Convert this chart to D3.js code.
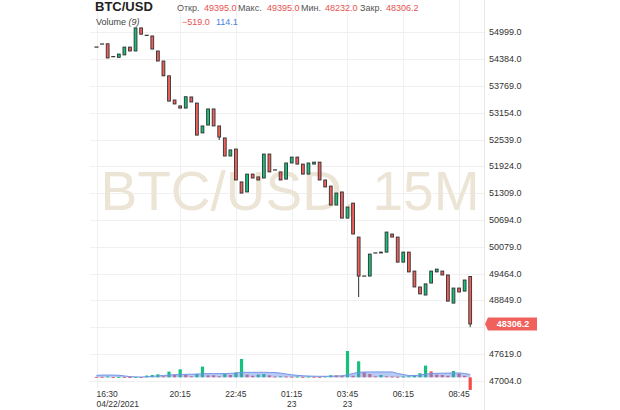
<!DOCTYPE html>
<html><head><meta charset="utf-8">
<script src="https://cdn.jsdelivr.net/npm/d3@7/dist/d3.min.js"></script>
<style>
html,body{margin:0;padding:0;background:#fff;}
svg{display:block;font-family:"Liberation Sans",Arial,sans-serif;}
</style></head>
<body><svg id="c" width="620" height="410"></svg>
<script>
// ---- data ----
const startTime = "2021-04-22T16:30:00";
const opens = [54660,54730,54735,54440,54425,54480,54660,54570,55100,54930,
 54915,54570,54340,54000,53445,53310,53260,53515,53375,52690,
 52870,53240,52850,52575,52160,52320,51565,51335,51745,51680,
 51655,52205,51840,51795,51630,52000,52135,51975,51745,51975,
 52020,51610,51470,51035,51335,50735,51080,50300,49405,49405,
 49935,49935,49955,50370,50300,49725,49955,49520,49155,48970,
 49245,49500,49520,49430,48785,49130,49060,49395];
const closes = [54660,54730,54410,54440,54500,54660,54570,55100,54955,54930,
 54615,54340,54000,53420,53355,53260,53520,53400,52640,52850,
 53240,52850,52595,52160,52300,51610,51310,51745,51655,51610,
 52205,51795,51840,51610,52000,52135,51975,51745,52000,52020,
 51610,51450,51035,51310,50735,50990,50370,49405,49405,49910,
 49935,49955,50415,50300,49725,49955,49500,49155,48995,49225,
 49520,49565,49430,48830,49130,49040,49315,48306.2];
const highs = [54660,54730,54735,54440,54500,54660,54660,55100,55100,54930,
 54915,54570,54340,54000,53445,53310,53520,53515,53375,52850,
 53240,53240,52850,52575,52300,52320,51565,51745,51745,51680,
 52205,52205,51840,51795,52000,52135,52135,51975,52000,52020,
 52020,51610,51470,51310,51335,50990,51080,50300,49405,49910,
 49935,49955,50415,50370,50300,49955,49955,49520,49155,49225,
 49520,49565,49520,49430,49130,49130,49315,49395];
const lows = [54660,54730,54410,54440,54425,54480,54570,54570,54955,54930,
 54615,54340,54000,53420,53355,53260,53260,53400,52640,52690,
 52870,52850,52527,52160,52160,51610,51310,51335,51655,51610,
 51655,51795,51840,51610,51630,52000,51975,51745,51745,51975,
 51610,51450,51035,51035,50735,50735,50370,48924,49405,49405,
 49935,49935,49955,50300,49725,49725,49500,49155,48995,48970,
 49245,49500,49430,48830,48785,49040,49060,48232];
const volumes = [20,20,33,12,20,20,12,20,12,70,
 94,123,41,234,111,328,111,41,135,439,
 82,82,41,135,94,205,750,111,62,111,
 135,82,33,41,33,25,33,20,33,25,
 20,41,82,82,62,1078,62,656,205,135,
 41,94,41,33,25,33,41,82,164,480,
 246,111,94,62,258,152,62,-519];
const volumeMA = [82,90,94,90,82,57,29,16,12,20,
 41,57,74,90,107,115,123,127,135,148,
 152,152,152,152,160,168,205,205,205,205,
 205,201,193,172,135,103,82,62,53,45,
 41,41,45,53,62,103,156,205,217,221,
 221,221,221,217,156,115,74,74,90,131,
 156,164,168,172,176,176,156,114.1];
const priceTicks = [54999,54384,53769,53154,52539,51924,51309,50694,50079,49464,48849,48234,47619,47004];
const timeTicks = ["2021-04-22T16:30:00","2021-04-22T20:15:00","2021-04-22T22:45:00","2021-04-23T01:15:00","2021-04-23T03:45:00","2021-04-23T06:15:00","2021-04-23T08:45:00"];
const timeLabels = ["16:30","20:15","22:45","01:15","03:45","06:15","08:45"];
const timeSubLabels = ["04/22/2021","","","23","23","",""];
const symbol = "BTC/USD";
const watermark = "BTC/USD, 15M";
const lastPrice = 48306.2;
const volLabel = "Volume", volPeriod = "(9)";

// ---- setup ----
const svg = d3.select("#c");
const GREEN = "#16c27b", RED = "#f0605c", DARK = "#303030";
const t0 = new Date(startTime);
const times = opens.map((d,i)=> d3.timeMinute.offset(t0, 15*i));
const x = d3.scaleTime().domain([times[0], times[times.length-1]]).range([96.5, 470.2]);
const y = d3.scaleLinear().domain([47004, 54999]).range([380.7, 32.3]);
const vy = d3.scaleLinear().domain([0, 1078]).range([377.3, 351]);
const plotL = 90, plotR = 484;

// grid
const g = svg.append("g");
g.selectAll("line.h").data(priceTicks).join("line")
  .attr("x1", plotL).attr("x2", plotR)
  .attr("y1", d=>Math.round(y(d))+0.5).attr("y2", d=>Math.round(y(d))+0.5)
  .attr("stroke", "#f0f0f0");
g.selectAll("line.v").data(timeTicks).join("line")
  .attr("x1", d=>Math.round(x(new Date(d)))+0.5).attr("x2", d=>Math.round(x(new Date(d)))+0.5)
  .attr("y1", 0).attr("y2", 388)
  .attr("stroke", "#f0f0f0");
svg.append("line").attr("x1", plotR+0.5).attr("x2", plotR+0.5).attr("y1",0).attr("y2",410).attr("stroke","#e6e6e6");

// watermark
svg.append("text").attr("x", 290).attr("y", 210).attr("text-anchor","middle")
  .attr("font-size", 55).attr("fill", "#ece5d6").text(watermark);

// volume bars
const vColor = (d,i)=> i>0 && volumes[i] > volumes[i-1] ? GREEN : RED;
svg.append("g").selectAll("rect").data(volumes).join("rect")
  .attr("x", (d,i)=> x(times[i]) - 1.6).attr("width", 3.2)
  .attr("y", d=> d>=0 ? vy(d) : vy(0))
  .attr("height", d=> Math.max(1, Math.abs(vy(d)-vy(0))))
  .attr("fill", (d,i)=> i===volumes.length-1 ? "#f44a4a" : vColor(d,i));

// volume MA area
const area = d3.area().x((d,i)=>x(times[i])).y0(vy(0)).y1(d=>vy(d)).curve(d3.curveMonotoneX);
const line = d3.line().x((d,i)=>x(times[i])).y(d=>vy(d)).curve(d3.curveMonotoneX);
svg.append("path").datum(volumeMA).attr("d", area).attr("fill", "rgba(96,136,230,0.45)");
svg.append("path").datum(volumeMA).attr("d", line).attr("fill","none").attr("stroke","#7396e6").attr("stroke-width",1);

// candles
const cg = svg.append("g");
opens.forEach((o,i)=>{
  const c = closes[i], cx = x(times[i]);
  const top = y(Math.max(o,c)), bot = y(Math.min(o,c));
  cg.append("line").attr("x1",cx).attr("x2",cx).attr("y1",y(highs[i])).attr("y2",y(lows[i]))
    .attr("stroke",DARK).attr("stroke-width",1);
  if (Math.abs(bot-top) < 0.8) {
    cg.append("line").attr("x1",cx-2).attr("x2",cx+2).attr("y1",top).attr("y2",top)
      .attr("stroke",DARK).attr("stroke-width",1.2);
  } else {
    cg.append("rect").attr("x",cx-1.4).attr("width",2.8).attr("y",top).attr("height",bot-top)
      .attr("fill", c>=o ? GREEN : RED).attr("stroke",DARK).attr("stroke-width",0.9);
  }
});

// price axis labels (the tick hidden behind the last-price tag is not labelled)
const ly = y(lastPrice);
svg.append("g").selectAll("text").data(priceTicks.filter(d=>Math.abs(y(d)-ly) > 9)).join("text")
  .attr("x", 489).attr("y", d=>y(d)+3).attr("font-size", 9).attr("fill","#333")
  .text(d=>d3.format(".1f")(d));

// last price label
svg.append("path").attr("d", `M${plotR+1},${ly} L${plotR+4},${ly-6.5} L${plotR+53},${ly-6.5} L${plotR+53},${ly+6.5} L${plotR+4},${ly+6.5} Z`)
  .attr("fill", "#f0605c");
svg.append("text").attr("x", plotR+29).attr("y", ly+3.3).attr("text-anchor","middle")
  .attr("font-size", 9).attr("font-weight","bold").attr("fill","#fff").text(d3.format(".1f")(lastPrice));

// time axis
const ta = svg.append("g");
timeTicks.forEach((d,i)=>{
  const tx = x(new Date(d));
  const anchor = i===0 ? "start" : "middle";
  ta.append("text").attr("x", tx).attr("y", 397).attr("text-anchor",anchor).attr("font-size",8.5).attr("fill","#333").text(timeLabels[i]);
  if (timeSubLabels[i]) ta.append("text").attr("x", tx).attr("y", 406.8).attr("text-anchor",anchor).attr("font-size",8.5).attr("fill","#333").text(timeSubLabels[i]);
});

// header
const fmt = d3.format(".1f");
svg.append("text").attr("x",95).attr("y",11).attr("font-size",13).attr("font-weight","bold").attr("fill","#222").text(symbol);
const hdr = [["Откр.", opens[opens.length-1], 177, 204],["Макс.", highs[highs.length-1], 238, 267],["Мин.", lows[lows.length-1], 301, 325],["Закр.", closes[closes.length-1], 360, 386]];
hdr.forEach(h=>{
  svg.append("text").attr("x",h[2]).attr("y",10.5).attr("font-size",9).attr("fill","#555").text(h[0]);
  svg.append("text").attr("x",h[3]).attr("y",10.5).attr("font-size",9).attr("fill","#e8524f").text(fmt(h[1]));
});
const vt = svg.append("text").attr("x",96).attr("y",25).attr("font-size",9).attr("fill","#444");
vt.append("tspan").text(volLabel + " ");
vt.append("tspan").attr("font-style","italic").text(volPeriod);
svg.append("text").attr("x",182).attr("y",25).attr("font-size",9).attr("fill","#e8524f").text(fmt(volumes[volumes.length-1]));
svg.append("text").attr("x",216).attr("y",25).attr("font-size",9).attr("fill","#4a7fe0").text(fmt(volumeMA[volumeMA.length-1]));
</script></body></html>
